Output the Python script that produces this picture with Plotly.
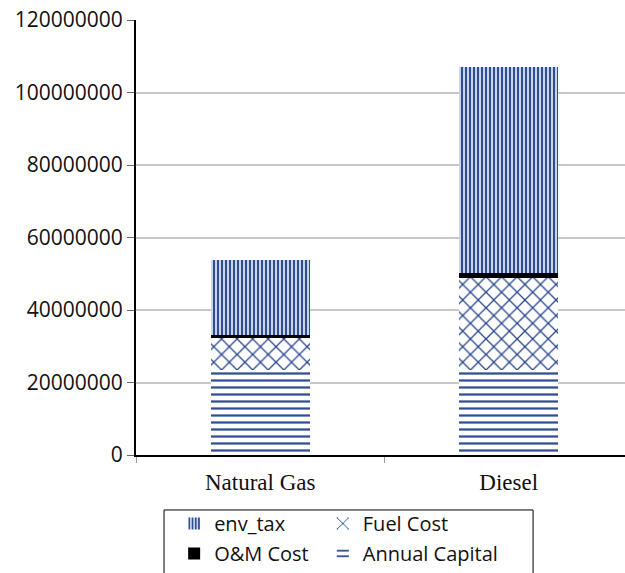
import plotly.graph_objects as go

# Cost components per fuel type (annualised, currency units)
categories = ["Natural Gas", "Diesel"]
annual_capital = [23500000, 23500000]
fuel_cost = [8700000, 25400000]
om_cost = [900000, 1400000]
env_tax = [20700000, 56700000]

y_ticks = [0, 20000000, 40000000, 60000000, 80000000, 100000000, 120000000]
y_tick_text = [str(v) for v in y_ticks]

BLUE = "#2F4D93"

fig = go.Figure()

# Stacked from the bottom up; the legend is split over two columns
fig.add_trace(go.Bar(
    name="Annual Capital", x=categories, y=annual_capital, width=0.40,
    marker=dict(color="white", line=dict(width=0),
                pattern=dict(shape="-", size=7, solidity=0.32,
                             fgcolor=BLUE, bgcolor="white", fgopacity=1)),
    legend="legend2", legendgroup="cap", legendrank=2,
))
fig.add_trace(go.Bar(
    name="Fuel Cost", x=categories, y=fuel_cost, width=0.40,
    marker=dict(color="white", line=dict(width=0),
                pattern=dict(shape="x", size=11, solidity=0.22,
                             fgcolor="#28468C", bgcolor="white", fgopacity=1)),
    legend="legend2", legendgroup="fuel", legendrank=1,
))
fig.add_trace(go.Bar(
    name="O&M Cost", x=categories, y=om_cost, width=0.40,
    marker=dict(color="black", line=dict(width=0)),
    legend="legend", legendgroup="om", legendrank=2,
))
fig.add_trace(go.Bar(
    name="env_tax", x=categories, y=env_tax, width=0.40,
    marker=dict(color="#C9D4EC", line=dict(width=0),
                pattern=dict(shape="|", size=4, solidity=0.5,
                             fgcolor=BLUE, bgcolor="#C9D4EC", fgopacity=1)),
    legend="legend", legendgroup="env", legendrank=1,
))

legend_common = dict(
    orientation="v", xanchor="left", y=-0.1126, yanchor="top",
    borderwidth=0, bgcolor="rgba(0,0,0,0)",
    font=dict(family="Open Sans, sans-serif", size=20, color="#111"),
    traceorder="grouped", tracegroupgap=1, itemwidth=30,
)

fig.update_layout(
    barmode="stack",
    width=625, height=573,
    margin=dict(l=136, r=0, t=20, b=118, autoexpand=False),
    paper_bgcolor="white", plot_bgcolor="white",
    font=dict(family="Open Sans, sans-serif", color="#1a1a1a"),
    showlegend=True,
    legend=dict(x=0.078, **legend_common),
    legend2=dict(x=0.382, **legend_common),
    xaxis=dict(
        range=[-0.5, 1.468], showgrid=False,
        showline=True, linecolor="black", linewidth=2,
        ticks="outside", tickson="boundaries", ticklen=6, tickcolor="#999",
        tickfont=dict(family="Liberation Serif, Times New Roman, serif", size=23, color="#111"),
        ticklabelstandoff=5,
        zeroline=False, automargin=False,
    ),
    yaxis=dict(
        range=[0, 120000000], tickvals=y_ticks, ticktext=y_tick_text,
        showgrid=True, gridcolor="#C8C8C8", gridwidth=1.5,
        showline=True, linecolor="black", linewidth=2,
        ticks="outside", ticklen=7, tickcolor="#666",
        tickfont=dict(family="Open Sans, sans-serif", size=21, color="#111"),
        zeroline=False, automargin=False,
    ),
    shapes=[dict(
        type="rect", xref="paper", yref="paper",
        x0=0.0573, x1=0.812, y0=-0.1264, y1=-0.30,
        line=dict(color="black", width=1), fillcolor="rgba(0,0,0,0)",
        layer="above",
    )],
)

fig.write_html("out.html")
